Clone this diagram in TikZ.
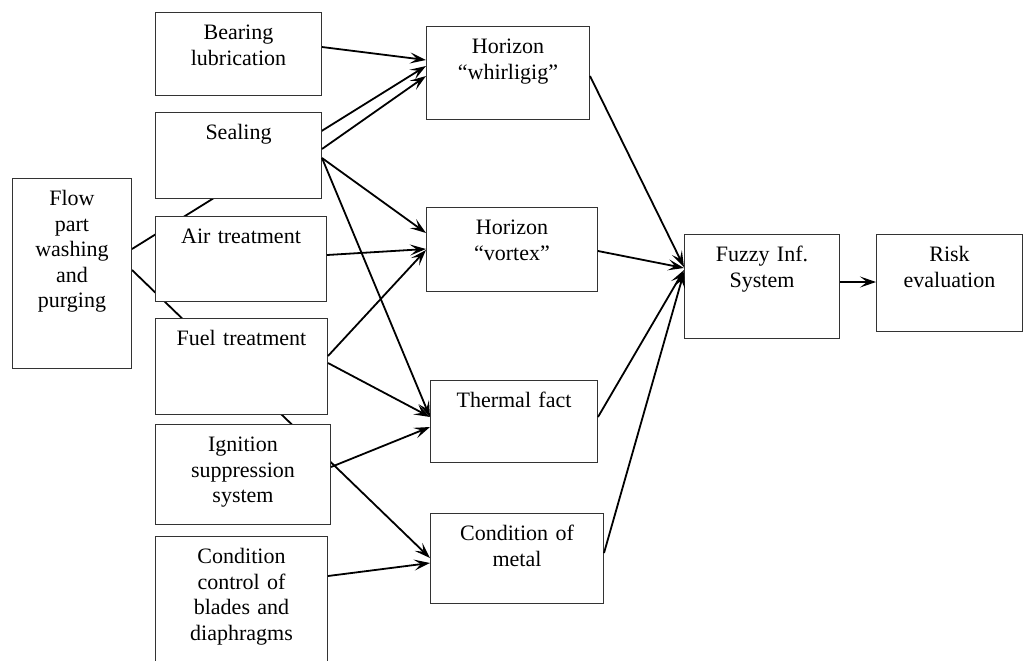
\documentclass[tikz,border=0pt]{standalone}
\usepackage{fontspec}
\setmainfont{Liberation Serif}
\usetikzlibrary{arrows.meta,calc,backgrounds}

\begin{document}
\begin{tikzpicture}[x=0.5pt,y=-0.5pt,font=\fontsize{11}{12.8}\selectfont]
    \tikzstyle{block}=[draw=black!80,fill=white,line width=0.5pt,anchor=north west,align=center,inner xsep=0pt,inner ysep=5.5pt,text height=8pt]
    \tikzstyle{link}=[draw,line width=0.9pt,-{Stealth[length=8pt,width=5.5pt,inset=3.5pt]}]

    \useasboundingbox (0,0) rectangle (1024,660);

    \node[block,text width=59.5pt,text depth=76pt] (W-1) at (12,178) {Flow\\part\\washing\\and\\purging};

    \node[block,text width=83pt,text depth=22.5pt] (S-1) at (155,12) {Bearing\\lubrication};
    \node[block,text width=83pt,text depth=24pt] (S-2) at (155,112) {Sealing};
    \node[block,text width=85.5pt,text depth=23.5pt] (S-3) at (155,216) {Air treatment};
    \node[block,text width=86pt,text depth=29pt] (S-4) at (155,318) {Fuel treatment};
    \node[block,text width=87.5pt,text depth=31pt] (S-5) at (155,424) {Ignition\\suppression\\system};
    \node[block,text width=86pt,text depth=45.5pt] (S-6) at (155,536) {Condition\\control of\\blades and\\diaphragms};

    \node[block,text width=81.5pt,text depth=27.5pt] (H-1) at (426,26) {Horizon\\“whirligig”};
    \node[block,text width=85.5pt,text depth=23pt] (H-2) at (426,207) {Horizon\\“vortex”};
    \node[block,text width=83.5pt,text depth=22pt] (H-3) at (430,380) {Thermal fact};
    \node[block,text width=86.5pt,text depth=26pt] (H-4) at (430,513) {Condition of\\metal};

    \node[block,text width=77.5pt,text depth=33pt] (F-1) at (684,234) {Fuzzy Inf.\\System};
    \node[block,text width=73pt,text depth=29.5pt] (R-1) at (876,234) {Risk\\evaluation};

    % source/offset on east side, target/offset on west side
    \foreach \src/\so/\dst/\di in {S-1/35/H-1/34, S-2/37/H-1/50, S-2/46/H-2/26, S-2/46/H-3/37,
                                   S-3/39/H-2/42, S-4/38/H-2/43, S-4/45/H-3/37, S-5/43/H-3/47,
                                   S-6/40/H-4/50, H-1/50/F-1/33, H-2/44/F-1/34, H-3/37/F-1/36,
                                   H-4/40/F-1/38, F-1/48/R-1/48}
        \path[link] ($(\src.north east)+(0,\so)$) -- ($(\dst.north west)+(0,\di)$);

    % washing links pass behind the boxes
    \begin{scope}[on background layer]
        \foreach \dst/\so/\di in {H-1/71/40, H-4/92/45}
            \path[link] ($(W-1.north east)+(0,\so)$) -- ($(\dst.north west)+(0,\di)$);
    \end{scope}

\end{tikzpicture}
\end{document}
